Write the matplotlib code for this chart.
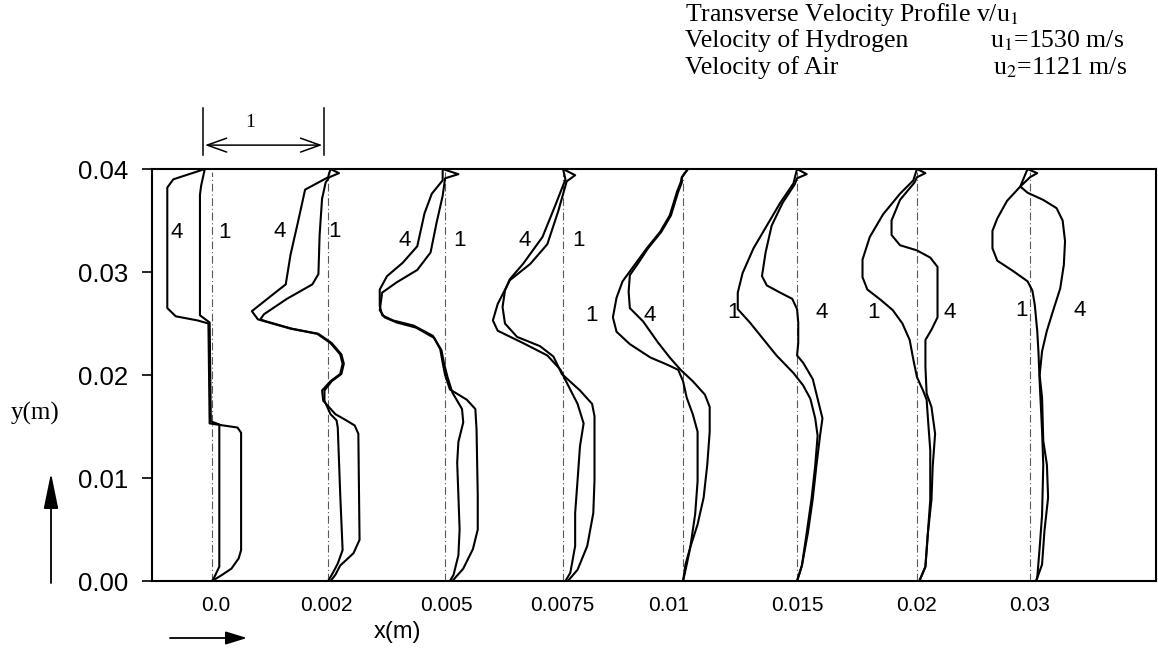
import matplotlib.pyplot as plt
from matplotlib.transforms import blended_transform_factory

plt.rcParams['font.family'] = ['Liberation Sans', 'DejaVu Sans']
plt.rcParams['mathtext.fontset'] = 'stix'

# x stations (m) and where each profile's zero line sits, in v/u1 units
estaciones = ["0.0", "0.002", "0.005", "0.0075", "0.01", "0.015", "0.02", "0.03"]
bases = [0.0, 0.959, 1.926, 2.901, 3.893, 4.835, 5.826, 6.760]
pos_texto_x = [0.033, 0.942, 1.934, 2.893, 3.769, 4.835, 5.826, 6.760]

# profiles: y in mm, v/u1 measured from the station's zero line
# x = 0.0
y0_1 = [40.0, 38.4, 37.5, 25.8, 25.1, 15.5, 15.2, 1.4, 0.4, 0.0]
v0_1 = [-0.06, -0.09, -0.10, -0.10, -0.02, -0.01, 0.06, 0.06, 0.02, 0.0]
y0_4 = [40.0, 39.0, 38.2, 26.5, 25.7, 25.3, 25.0, 15.3, 14.9, 14.4, 3.0, 2.2, 1.2, 0.5, 0.0]
v0_4 = [-0.06, -0.32, -0.37, -0.37, -0.30, -0.12, -0.03, -0.02, 0.21, 0.24, 0.24, 0.22, 0.16, 0.07, 0.0]

# x = 0.002
y2_1 = [40.0, 39.6, 39.2, 38.7, 37.1, 33.6, 29.8, 28.8, 27.4, 25.9, 25.4, 25.2, 24.5, 24.0, 23.1,
        22.0, 21.1, 20.1, 19.4, 18.5, 17.5, 16.2, 15.6, 14.9, 8.5, 3.0, 1.7, 0.8, 0.0]
v2_1 = [0.02, 0.09, 0.01, -0.02, -0.05, -0.07, -0.08, -0.13, -0.34, -0.53, -0.56, -0.51, -0.30, -0.08, 0.03,
        0.11, 0.13, 0.11, 0.03, -0.03, -0.03, 0.02, 0.07, 0.08, 0.10, 0.12, 0.08, 0.04, 0.0]
y2_4 = [40.0, 39.2, 38.0, 34.8, 31.7, 28.8, 27.6, 26.2, 25.4, 25.2, 24.5, 24.0, 23.1, 22.0,
        21.1, 20.1, 19.4, 18.5, 17.5, 16.2, 15.6, 15.1, 14.3, 4.0, 2.7, 1.5, 0.6, 0.0]
v2_4 = [0.02, 0.0, -0.19, -0.25, -0.31, -0.35, -0.48, -0.63, -0.58, -0.52, -0.31, -0.09, 0.02, 0.10,
        0.12, 0.10, 0.02, -0.05, -0.04, 0.06, 0.15, 0.22, 0.25, 0.26, 0.21, 0.10, 0.06, 0.02]

# x = 0.005
y5_1 = [40.0, 39.5, 39.1, 37.4, 34.8, 31.9, 30.2, 29.0, 28.0, 26.3, 25.6, 25.1, 24.6, 23.6,
        22.4, 21.2, 19.8, 18.3, 16.7, 15.4, 13.5, 11.5, 8.3, 5.0, 2.5, 0.6, 0.0]
v5_1 = [-0.02, 0.11, 0.0, -0.02, -0.07, -0.12, -0.23, -0.40, -0.52, -0.54, -0.50, -0.40, -0.24, -0.09,
        -0.03, -0.01, 0.02, 0.06, 0.14, 0.15, 0.11, 0.10, 0.11, 0.12, 0.11, 0.07, 0.04]
y5_4 = [40.0, 38.9, 37.6, 35.7, 32.5, 30.9, 29.6, 28.3, 26.7, 25.8, 25.3, 24.8, 23.8,
        22.5, 21.2, 20.0, 18.6, 17.6, 16.7, 14.7, 8.3, 5.0, 3.1, 1.2, 0.0]
v5_4 = [-0.02, -0.02, -0.11, -0.17, -0.23, -0.35, -0.48, -0.54, -0.54, -0.52, -0.43, -0.26, -0.10,
        -0.04, -0.02, 0.0, 0.04, 0.18, 0.25, 0.26, 0.27, 0.27, 0.23, 0.15, 0.06]

# x = 0.0075
y75_1 = [40.0, 39.4, 38.8, 35.9, 32.7, 30.8, 29.2, 26.9, 25.3, 24.3, 23.1,
         21.9, 20.5, 19.5, 17.2, 15.3, 13.1, 9.8, 6.6, 3.4, 0.8, 0.0]
v75_1 = [0.0, 0.10, 0.03, -0.04, -0.13, -0.27, -0.44, -0.54, -0.58, -0.54, -0.33,
         -0.13, -0.02, 0.02, 0.12, 0.17, 0.14, 0.12, 0.10, 0.10, 0.06, 0.02]
y75_4 = [40.0, 39.0, 36.3, 33.4, 30.8, 29.3, 28.2, 26.6, 25.0, 23.7, 22.8,
         21.8, 20.1, 18.5, 17.2, 16.0, 13.1, 9.8, 6.6, 3.4, 1.1, 0.0]
v75_4 = [0.0, 0.02, -0.07, -0.17, -0.33, -0.44, -0.48, -0.50, -0.48, -0.38, -0.19,
         -0.08, -0.01, 0.14, 0.24, 0.26, 0.26, 0.26, 0.25, 0.20, 0.12, 0.04]

# x = 0.01
y10_1 = [40.0, 39.2, 38.7, 37.8, 35.5, 33.9, 32.3, 30.7, 29.1, 27.5, 25.6, 24.2, 23.0,
         21.7, 21.0, 20.5, 19.4, 17.8, 16.2, 14.5, 13.0, 9.7, 6.5, 3.3, 1.6, 0.0]
v10_1 = [0.04, -0.01, -0.02, -0.05, -0.11, -0.19, -0.30, -0.40, -0.50, -0.55, -0.58, -0.55, -0.44,
         -0.27, -0.13, -0.04, 0.0, 0.03, 0.08, 0.12, 0.12, 0.12, 0.10, 0.06, 0.02, 0.0]
y10_4 = [40.0, 39.2, 38.7, 37.8, 35.5, 33.9, 32.3, 30.7, 29.7, 28.1, 26.5, 25.2, 23.2,
         21.7, 20.5, 19.4, 18.1, 16.9, 14.5, 11.3, 8.1, 5.5, 3.3, 1.6, 0.0]
v10_4 = [0.04, -0.01, -0.01, -0.04, -0.10, -0.18, -0.29, -0.38, -0.44, -0.45, -0.44, -0.33, -0.21,
         -0.11, -0.02, 0.08, 0.18, 0.22, 0.22, 0.20, 0.17, 0.12, 0.06, 0.03, 0.0]

# x = 0.015
y15_1 = [40.0, 38.6, 36.7, 34.5, 32.3, 29.9, 28.0, 26.4, 25.1, 23.5, 21.9,
         20.2, 19.0, 17.7, 15.8, 14.1, 11.2, 8.0, 4.7, 1.5, 0.0]
v15_1 = [0.0, -0.03, -0.14, -0.25, -0.36, -0.45, -0.49, -0.49, -0.39, -0.28, -0.17,
         -0.03, 0.05, 0.11, 0.15, 0.17, 0.15, 0.12, 0.08, 0.04, 0.0]
y15_4 = [40.0, 39.5, 39.1, 38.5, 36.7, 34.5, 31.9, 29.6, 28.7, 28.0, 27.4, 26.4, 25.1,
         23.1, 21.9, 21.2, 19.6, 17.7, 15.8, 14.1, 11.2, 8.0, 4.7, 1.5, 0.0]
v15_4 = [0.0, 0.08, 0.0, -0.02, -0.12, -0.21, -0.26, -0.29, -0.25, -0.14, -0.04, 0.0, 0.01,
         0.01, 0.0, 0.05, 0.13, 0.17, 0.21, 0.19, 0.16, 0.13, 0.09, 0.04, 0.0]

# x = 0.02
y20_1 = [40.0, 38.9, 37.6, 35.6, 33.4, 31.2, 29.5, 28.3, 27.3, 26.3, 25.0,
         23.4, 21.5, 19.8, 18.5, 17.6, 15.9, 12.7, 7.9, 4.6, 1.4, 0.0]
v20_1 = [0.0, -0.03, -0.14, -0.28, -0.39, -0.45, -0.45, -0.41, -0.30, -0.20, -0.12,
         -0.06, -0.03, 0.0, 0.05, 0.08, 0.09, 0.11, 0.11, 0.09, 0.07, 0.02]
y20_4 = [40.0, 39.6, 39.2, 38.7, 37.0, 35.0, 33.6, 32.6, 32.1, 31.4, 30.5, 28.8, 27.3,
         25.6, 24.4, 23.4, 20.8, 18.2, 16.9, 14.3, 11.1, 7.9, 4.6, 1.4, 0.0]
v20_4 = [0.0, 0.07, 0.0, -0.02, -0.14, -0.21, -0.21, -0.14, 0.0, 0.11, 0.17, 0.17, 0.17,
         0.17, 0.12, 0.07, 0.07, 0.08, 0.12, 0.15, 0.13, 0.12, 0.09, 0.07, 0.02]

# x = 0.03
y30_1 = [40.0, 38.3, 36.9, 35.2, 34.0, 32.3, 31.1, 30.1, 29.1, 28.2,
         26.8, 24.3, 22.3, 19.4, 14.6, 11.3, 6.4, 3.2, 0.3, 0.0]
v30_1 = [-0.02, -0.08, -0.19, -0.27, -0.31, -0.31, -0.27, -0.14, -0.02, 0.02,
         0.04, 0.06, 0.07, 0.08, 0.10, 0.11, 0.10, 0.08, 0.06, 0.05]
y30_4 = [40.0, 39.6, 39.2, 38.3, 37.7, 37.0, 36.2, 35.0, 33.0, 30.7, 28.4, 26.2,
         24.3, 22.3, 20.0, 17.8, 13.6, 11.3, 8.1, 4.9, 1.6, 0.3, 0.0]
v30_4 = [-0.02, 0.06, 0.0, -0.08, -0.02, 0.11, 0.22, 0.27, 0.29, 0.28, 0.25, 0.19,
         0.14, 0.10, 0.08, 0.10, 0.11, 0.14, 0.15, 0.12, 0.10, 0.06, 0.05]

perfiles = [
    [(y0_1, v0_1), (y0_4, v0_4)],
    [(y2_1, v2_1), (y2_4, v2_4)],
    [(y5_1, v5_1), (y5_4, v5_4)],
    [(y75_1, v75_1), (y75_4, v75_4)],
    [(y10_1, v10_1), (y10_4, v10_4)],
    [(y15_1, v15_1), (y15_4, v15_4)],
    [(y20_1, v20_1), (y20_4, v20_4)],
    [(y30_1, v30_1), (y30_4, v30_4)],
]

# curve numbers: (station, text, offset from zero line, y in m)
etiquetas = [
    (0, "4", -0.289, 0.0338), (0, "1", 0.099, 0.0338),
    (1, "4", -0.397, 0.0339), (1, "1", 0.049, 0.0339),
    (2, "4", -0.331, 0.0331), (2, "1", 0.115, 0.0331),
    (3, "4", -0.314, 0.0331), (3, "1", 0.124, 0.0331),
    (4, "1", -0.753, 0.0258), (4, "4", -0.273, 0.0258),
    (5, "1", -0.529, 0.0261), (5, "4", 0.206, 0.0261),
    (6, "1", -0.363, 0.0261), (6, "4", 0.273, 0.0261),
    (7, "1", -0.066, 0.0263), (7, "4", 0.414, 0.0263),
]

fig = plt.figure(figsize=(11.58, 6.61), dpi=100)
ax = fig.add_axes([0.1313, 0.121, 0.867, 0.6233])

for base, par in zip(bases, perfiles):
    ax.plot([base, base], [0.0, 0.0397], color='0.35', lw=0.8,
            linestyle=(0, (7, 2.5, 1, 2.5)))
    for ys, vs in par:
        ax.plot([base + v for v in vs], [y / 1000 for y in ys], color='black', lw=1.5)

for i, txt, dx, y in etiquetas:
    ax.text(bases[i] + dx, y, txt, fontsize=16, ha='center', va='center')

ax.set_xlim(-0.496, 7.802)
ax.set_ylim(0.0, 0.04)
ax.set_yticks([0.0, 0.01, 0.02, 0.03, 0.04])
ax.set_yticklabels(["0.00", "0.01", "0.02", "0.03", "0.04"])
ax.set_xticks(pos_texto_x)
ax.set_xticklabels(estaciones)
ax.tick_params(axis='y', direction='out', length=7, width=1.2, pad=10, labelsize=18.5)
ax.tick_params(axis='x', length=0, pad=11, labelsize=15)
for s in ax.spines.values():
    s.set_linewidth(1.5)

# scale bar: one unit of v/u1
tr = blended_transform_factory(ax.transData, ax.transAxes)
x0 = -0.074
for xx in (x0, x0 + 1):
    ax.plot([xx, xx], [1.034, 1.148], transform=tr, clip_on=False, color='black', lw=1.1)
ax.annotate('', xy=(x0 + 0.985, 1.058), xytext=(x0 + 0.015, 1.058), xycoords=tr, textcoords=tr,
            arrowprops=dict(arrowstyle='<->,head_length=1.4,head_width=0.5', lw=1.1,
                            color='black', shrinkA=0, shrinkB=0, mutation_scale=10))
ax.text(x0 + 0.388, 1.114, '1', transform=tr, family='Liberation Serif', fontsize=14,
        ha='center', va='center')

# axis arrows outside the frame
ax.annotate('', xy=(51, 188), xytext=(51, 78), xycoords='figure pixels',
            arrowprops=dict(arrowstyle='-|>,head_length=2.2,head_width=0.45', lw=1.3,
                            color='black', shrinkA=0, shrinkB=0, mutation_scale=10))
ax.annotate('', xy=(247, 23), xytext=(170, 23), xycoords='figure pixels',
            arrowprops=dict(arrowstyle='-|>,head_length=1.3,head_width=0.4', lw=1.3,
                            color='black', shrinkA=0, shrinkB=0, mutation_scale=10))

fig.text(35 / 1158, 1 - 413 / 661, 'y(m)', family='Liberation Serif', fontsize=18,
         ha='center', va='center')
fig.text(397 / 1158, 1 - 632 / 661, 'x(m)', fontsize=17, ha='center', va='center')

serif = 'Liberation Serif'
fs_cab = 18.5
fig.text(685 / 1158, 1 - 14 / 661, r'Transverse Velocity Profile v/u$_1$', family=serif,
         fontsize=fs_cab, ha='left', va='center')
fig.text(685 / 1158, 1 - 41 / 661, 'Velocity of Hydrogen', family=serif, fontsize=fs_cab,
         ha='left', va='center')
fig.text(685 / 1158, 1 - 68 / 661, 'Velocity of Air', family=serif, fontsize=fs_cab,
         ha='left', va='center')
fig.text(1057 / 1158, 1 - 41 / 661, r'u$_1$=1530 m/s', family=serif, fontsize=fs_cab,
         ha='center', va='center')
fig.text(1060 / 1158, 1 - 68 / 661, r'u$_2$=1121 m/s', family=serif, fontsize=fs_cab,
         ha='center', va='center')

fig.savefig('out.png', dpi=100)
